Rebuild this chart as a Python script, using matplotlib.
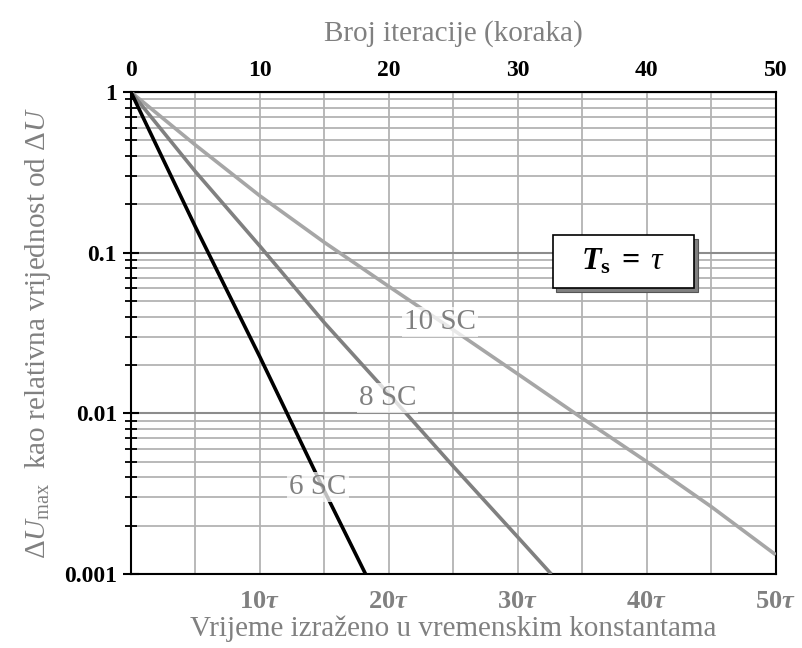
import numpy as np
import matplotlib.pyplot as plt
from matplotlib.patches import Rectangle
from matplotlib.ticker import FixedLocator, NullFormatter

plt.rcParams['font.family'] = ['Liberation Serif', 'DejaVu Serif']
plt.rcParams['mathtext.fontset'] = 'custom'
plt.rcParams['mathtext.rm'] = 'Liberation Serif'
plt.rcParams['mathtext.it'] = 'Liberation Serif:italic'
plt.rcParams['mathtext.bf'] = 'Liberation Serif:bold'
plt.rcParams['mathtext.bfit'] = 'Liberation Serif:bold:italic'

# relative deviation per iteration step (T_s = tau)
n_6sc = [0, 5, 10, 15, 18.2]
du_6sc = [1.0, 0.145, 0.0225, 0.0033, 0.001]
n_8sc = [0, 5, 10, 15, 20, 25, 30, 32.6]
du_8sc = [1.0, 0.320, 0.110, 0.0367, 0.0132, 0.00468, 0.0017, 0.001]
n_10sc = [0, 5, 10, 15, 20, 25, 30, 35, 40, 45, 50]
du_10sc = [1.0, 0.468, 0.226, 0.116, 0.0617, 0.0331, 0.0176, 0.00933, 0.00501, 0.00263, 0.00132]

top_ticks = [0, 10, 20, 30, 40, 50]
bottom_ticks = [10, 20, 30, 40, 50]
bottom_labels = [r'$\mathbf{%d}\mathbfit{τ}$' % t for t in bottom_ticks]
y_ticks = [1, 0.1, 0.01, 0.001]
y_labels = ['1', '0.1', '0.01', '0.001']

GRAY = '#808080'

fig = plt.figure(figsize=(8.03, 6.48), dpi=100)
ax = fig.add_axes([0.163, 0.114, 0.803, 0.744])

ax.set_yscale('log')
ax.set_xlim(0, 50)
ax.set_ylim(0.001, 1)

# grid
ax.xaxis.set_minor_locator(FixedLocator(np.arange(5, 50, 5)))
ax.grid(True, which='minor', axis='x', color='#b3b3b3', lw=1.3)
ax.grid(True, which='major', axis='x', color='#b3b3b3', lw=1.3)
ax.grid(True, which='minor', axis='y', color='#b3b3b3', lw=1.3)
ax.grid(True, which='major', axis='y', color='#8c8c8c', lw=1.5)
ax.set_axisbelow(True)

ax.plot(n_10sc, du_10sc, color='#a6a6a6', lw=2.6, solid_capstyle='butt', zorder=3)
ax.plot(n_8sc, du_8sc, color=GRAY, lw=2.6, solid_capstyle='butt', zorder=3)
ax.plot(n_6sc, du_6sc, color='black', lw=2.6, solid_capstyle='butt', zorder=3)

label_box = dict(facecolor='white', edgecolor='none', alpha=0.75, pad=1.5)
ax.text(23.95, 0.0371, '10 SC', color=GRAY, fontsize=21, ha='center', va='center',
        bbox=label_box, zorder=4)
ax.text(19.9, 0.01247, '8 SC', color=GRAY, fontsize=21, ha='center', va='center',
        bbox=label_box, zorder=4)
ax.text(14.5, 0.00348, '6 SC', color=GRAY, fontsize=21, ha='center', va='center',
        bbox=label_box, zorder=4)

# boxed annotation with drop shadow
ax.add_patch(Rectangle((0.660, 0.585), 0.219, 0.110, transform=ax.transAxes,
                       facecolor=GRAY, edgecolor='#555555', lw=0.8, zorder=5))
ax.add_patch(Rectangle((0.654, 0.593), 0.219, 0.110, transform=ax.transAxes,
                       facecolor='white', edgecolor='black', lw=1.2, zorder=6))
ax.text(0.7635, 0.648, r'$\mathbfit{T}_{\mathbf{s}}\;\mathbf{=}\;\mathit{τ}$',
        transform=ax.transAxes, fontsize=23, ha='center', va='center', zorder=7)

# bottom axis: time in time constants
ax.set_xticks(bottom_ticks)
ax.set_xticklabels(bottom_labels, fontsize=19, color=GRAY)
ax.tick_params(axis='x', which='both', length=0, pad=12)
ax.set_xlabel('Vrijeme izraženo u vremenskim konstantama', fontsize=21, color=GRAY,
              labelpad=2)

# left axis
ax.set_yticks(y_ticks)
ax.set_yticklabels(y_labels, fontsize=17, fontweight='bold')
ax.yaxis.set_minor_formatter(NullFormatter())
ax.tick_params(axis='y', which='major', direction='inout', length=12, width=1.5, pad=4)
ax.tick_params(axis='y', which='minor', direction='inout', length=8, width=1.3)
ax.set_ylabel(r'$\Delta \mathit{U}_{\rm max}$  kao relativna vrijednost od $\Delta \mathit{U}$',
              fontsize=21, color=GRAY, labelpad=8)

for s in ax.spines.values():
    s.set_color('black')
    s.set_linewidth(1.5)

# top axis: iteration count
top = ax.secondary_xaxis('top')
top.set_xticks(top_ticks)
top.set_xticklabels([str(t) for t in top_ticks], fontsize=17, fontweight='bold')
top.tick_params(axis='x', length=0, pad=8)
top.set_xlabel('Broj iteracije (koraka)', fontsize=21, color=GRAY, labelpad=14)

fig.savefig('out.png', dpi=100)
